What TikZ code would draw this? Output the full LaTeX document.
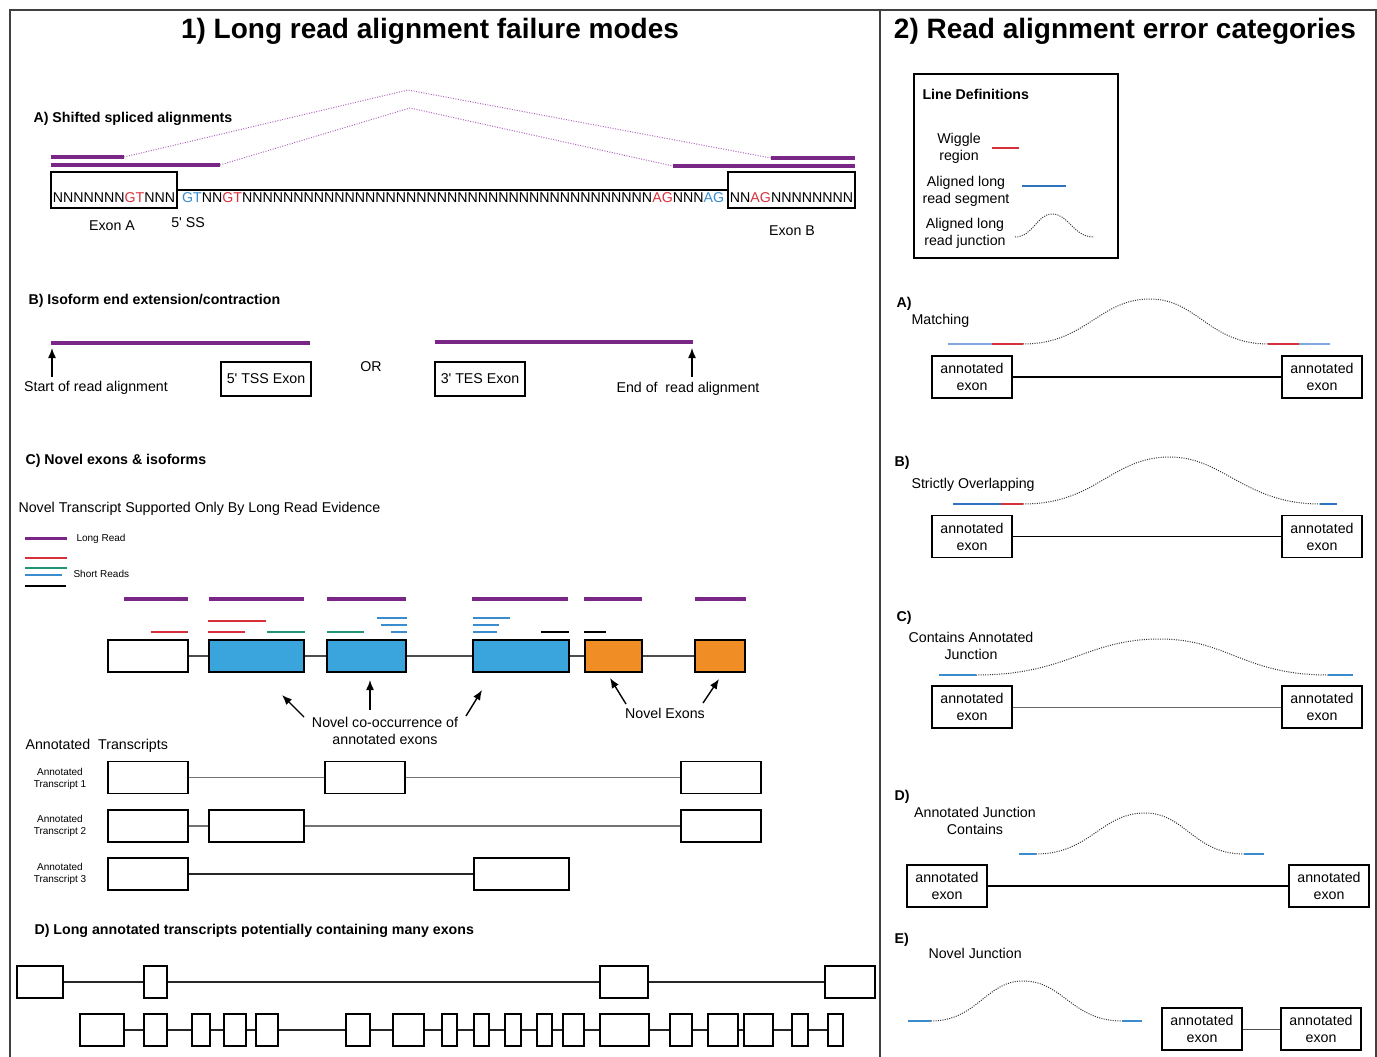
\documentclass[tikz,border=0pt]{standalone}
\usepackage{fontspec}
\setmainfont{Liberation Sans}
\usetikzlibrary{arrows.meta,positioning}
\definecolor{lrpurple}{RGB}{122,38,134}
\definecolor{jpurple}{RGB}{176,104,190}
\definecolor{sred}{RGB}{214,48,58}
\definecolor{sblue}{RGB}{58,140,206}
\definecolor{exblue}{RGB}{58,165,221}
\definecolor{exorange}{RGB}{240,141,36}
\definecolor{sgreen}{RGB}{32,148,118}
\definecolor{lblue}{RGB}{128,168,224}
\definecolor{dblue}{RGB}{44,116,192}

\begin{document}
\begin{tikzpicture}[x=1pt, y=-1pt, font=\fontsize{14.2}{17}\selectfont,
  box/.style={draw, line width=1.1pt, inner sep=0pt},
  seqbox/.style={box, text height=30pt, text depth=6pt},
  exon/.style={box, minimum height=32pt},
  aexon/.style={box, align=center, minimum width=80pt, minimum height=42pt},
  lread/.style={lrpurple, line width=4pt},
  sread/.style={line width=1.4pt},
  jdot/.style={jpurple, line width=1pt, dash pattern=on 1pt off 1.5pt},
  jline/.style={black!80, line width=1pt, dash pattern=on 1pt off 1.3pt},
  intron/.style={black!70, line width=1.4pt},
  arr/.style={line width=1.4pt, -{Latex[length=10pt, width=8pt]}},
  bold/.style={font=\fontsize{14.2}{17}\selectfont\bfseries},
  head/.style={anchor=west, bold},
  big/.style={font=\fontsize{28}{32}\selectfont\bfseries},
  small/.style={font=\fontsize{10}{12.5}\selectfont, align=center}]
\useasboundingbox (0,0) rectangle (1377,1057);

\draw[line width=1.2pt, black!75] (10,1057) -- (10,10) -- (1376,10) -- (1376,1057);
\draw[line width=1.2pt, black!75] (880,10) -- (880,1057);
\node[big] (title1) at (430,31) {1) Long read alignment failure modes};
\node[big] (title2) at (1125,31) {2) Read alignment error categories};

% A) shifted spliced alignments
\node[head] (hA) at (30,119) {A) Shifted spliced alignments};
\draw[jdot] (124,157) -- (408,90) -- (771,158);
\draw[jdot] (220,165) -- (410,108) -- (673,166);
\draw[lread] (51,157) -- (124,157);
\draw[lread] (51,165) -- (220,165);
\draw[lread] (771,158) -- (855,158);
\draw[lread] (673,166) -- (855,166);
\node[seqbox, minimum width=126pt] (exA) at (114,190) {NNNNNNN\textcolor{sred}{GT}NNN};
\node[seqbox, minimum width=127pt] (exB) at (791.5,190) {NN\textcolor{sred}{AG}NNNNNNNN};
\draw[line width=1.1pt] (exA) -- (exB);
\node[anchor=base west, inner sep=0pt] (intr) at (182,202) {\textcolor{sblue}{GT}NN\textcolor{sred}{GT}NNNNNNNNNNNNNNNNNNNNNNNNNNNNNNNNNNNNNNNN\textcolor{sred}{AG}NNN\textcolor{sblue}{AG}};
\node (exAl) at (112,226) {Exon A};
\node (ssl) at (188,223) {5\textquotesingle{} SS};
\node (exBl) at (792,231) {Exon B};

% B) isoform ends
\node[head] (hB) at (25,301) {B) Isoform end extension/contraction};
\draw[lread] (51,343) -- (310,343);
\draw[lread] (435,342) -- (693,342);
\node (sra) at (96,388) {Start of read alignment};
\coordinate (sra0) at (52,377);
\coordinate (sra1) at (52,348);
\draw[arr] (sra0) -- (sra1);
\node[box, minimum width=90pt, minimum height=34pt] (tss) at (266,379) {5\textquotesingle{} TSS Exon};
\node (or) at (371,367) {OR};
\node[box, minimum width=90pt, minimum height=34pt] (tes) at (480,379) {3\textquotesingle{} TES Exon};
\node (era) at (688,389) {End of~ read alignment};
\coordinate (era0) at (692,377);
\coordinate (era1) at (692,348);
\draw[arr] (era0) -- (era1);

% C) novel exons
\node[head] (hC) at (22,461) {C) Novel exons \& isoforms};
\node[anchor=west] (ntx) at (15,509) {Novel Transcript Supported Only By Long Read Evidence};
\draw[lread, line width=3pt] (25,538) -- (67,538);
\node[small, anchor=west] (lgl) at (73,539) {Long Read};
\draw[sread, sred, line width=1.2pt] (25,558) -- (67,558);
\draw[sread, sgreen, line width=1.2pt] (25,568) -- (67,568);
\draw[sread, sblue, line width=1.2pt] (25,575) -- (62,575);
\draw[sread, black, line width=1.2pt] (25,586) -- (66,586);
\node[small, anchor=west] (lgs) at (70,574) {Short Reads};

\foreach \l/\r in {124/188, 209/304, 327/406, 472/568, 584/642, 695/746}
  \draw[lread] (\l,599) -- (\r,599);
\draw[sread, sred] (151,632) -- (188,632);
\draw[sread, sred] (208,621) -- (266,621);
\draw[sread, sred] (208,632) -- (245,632);
\draw[sread, sgreen] (267,632) -- (305,632);
\draw[sread, sgreen] (327,632) -- (364,632);
\draw[sread, sblue] (377,618) -- (407,618);
\draw[sread, sblue] (381,625) -- (407,625);
\draw[sread, sblue] (391,632) -- (407,632);
\draw[sread, sblue] (473,618) -- (510,618);
\draw[sread, sblue] (473,625) -- (499,625);
\draw[sread, sblue] (473,632) -- (497,632);
\draw[sread, black] (541,632) -- (569,632);
\draw[sread, black] (584,632) -- (606,632);

\foreach \n/\l/\r/\f in {c1/108/188/white, c2/209/304/exblue, c3/327/406/exblue, c4/473/569/exblue, c5/585/642/exorange, c6/695/745/exorange}
  \node[exon, fill=\f, minimum width={\r-\l}] (\n) at ({(\l+\r)/2},656) {};
\draw[intron] (c1) -- (c2) -- (c3) -- (c4) -- (c5) -- (c6);

\node[align=center] (nco) at (385,730.5) {Novel co-occurrence of\\annotated exons};
\node (nex) at (665,713) {Novel Exons};
\coordinate (p1) at (304,717); \coordinate (q1) at (282,695);
\coordinate (p2) at (370,710); \coordinate (q2) at (370,680);
\coordinate (p3) at (466,716); \coordinate (q3) at (482,690);
\coordinate (p4) at (626,704); \coordinate (q4) at (610,678);
\coordinate (p5) at (703,703); \coordinate (q5) at (719,679);
\foreach \i in {1,...,5}
  \draw[arr] (p\i) -- (q\i);

\node[anchor=west] (atx) at (22,746) {Annotated~ Transcripts};
\node[small] (at1) at (60,779) {Annotated\\Transcript 1};
\node[small] (at2) at (60,826) {Annotated\\Transcript 2};
\node[small] (at3) at (60,874) {Annotated\\Transcript 3};
\foreach \n/\l/\r/\y in {ta/108/188/777.5, tb/325/405/777.5, tc/681/761/777.5,
                          ua/108/188/826, ub/209/304/826, uc/681/761/826,
                          va/108/188/874, vb/474/569/874}
  \node[exon, minimum width={\r-\l}] (\n) at ({(\l+\r)/2},\y) {};
\draw[intron, black!55] (ta) -- (tb) -- (tc);
\draw[intron, black!55] (ua) -- (ub) -- (uc);
\draw[intron, black!85] (va) -- (vb);

% D) long annotated transcripts
\node[head] (hD) at (31,931) {D) Long annotated transcripts potentially containing many exons};
\foreach \n/\l/\r in {d1/17/63, d2/144/167, d3/600/648, d4/825/875}
  \node[exon, minimum width={\r-\l}] (\n) at ({(\l+\r)/2},982) {};
\draw[intron, black!85] (d1) -- (d2) -- (d3) -- (d4);
\foreach \l/\r [count=\i] in {80/124, 144/167, 192/210, 224/246, 256/278, 346/370, 393/424, 442/457, 474/489, 505/521, 537/552, 563/584, 600/649, 670/692, 708/738, 744/773, 792/808, 828/843}
  \node[exon, minimum width={\r-\l}] (e\i) at ({(\l+\r)/2},1030) {};
\foreach \i [evaluate=\i as \j using int(\i+1)] in {1,...,17}
  \draw[intron, black!85] (e\i) -- (e\j);

% line definitions
\draw[line width=1.1pt] (914,74) rectangle (1118,258);
\node[head] (ldh) at (919,94) {Line Definitions};
\node[align=center] (wig) at (959,148) {Wiggle\\region};
\draw[sread, sred] (992,148) -- (1019,148);
\node[align=center] (seg) at (966,191.5) {Aligned long\\read segment};
\draw[sread, dblue] (1022,186) -- (1066,186);
\node[align=center] (jun) at (965,233.5) {Aligned long\\read junction};
\draw[jline] (1015,237) .. controls (1033,237) and (1037,214) .. (1052,214) .. controls (1069,214) and (1073,237) .. (1094,237);

% A) matching
\node[head] (rA) at (893,304) {A)};
\node[anchor=west] (rAt) at (908,321) {Matching};
\draw[jline] (1023,344) .. controls (1086,344) and (1099,299) .. (1150,299) .. controls (1197,299) and (1209,344) .. (1268,344);
\draw[sread, lblue] (948,344) -- (992,344);
\draw[sread, sred] (992,344) -- (1023,344);
\draw[sread, sred] (1268,344) -- (1299,344);
\draw[sread, lblue] (1299,344) -- (1330,344);
\node[aexon] (a1) at (972,377) {annotated\\exon};
\node[aexon] (a2) at (1322,377) {annotated\\exon};
\draw[line width=1.4pt] (a1) -- (a2);

% B) strictly overlapping
\node[head] (rB) at (891,463) {B)};
\node[anchor=west] (rBt) at (908,485) {Strictly Overlapping};
\draw[jline] (1023,504) .. controls (1097,504) and (1111,457) .. (1170,457) .. controls (1223,457) and (1245,504) .. (1320,504);
\draw[sread, dblue] (953,504) -- (1001,504);
\draw[sread, sred] (1001,504) -- (1023,504);
\draw[sread, dblue] (1320,504) -- (1337,504);
\node[aexon] (b1) at (972,536.5) {annotated\\exon};
\node[aexon] (b2) at (1322,536.5) {annotated\\exon};
\draw[line width=1.2pt] (b1) -- (b2);

% C) contains annotated junction
\node[head] (rC) at (893,618) {C)};
\node[align=center] (rCt) at (971,646) {Contains Annotated\\Junction};
\draw[jline] (976,675) .. controls (1068,675) and (1086,639) .. (1160,639) .. controls (1227,639) and (1244,675) .. (1328,675);
\draw[sread, sblue, line width=1.8pt] (939,675) -- (976,675);
\draw[sread, sblue, line width=1.8pt] (1328,675) -- (1353,675);
\node[aexon] (c7) at (972,707) {annotated\\exon};
\node[aexon] (c8) at (1322,707) {annotated\\exon};
\draw[line width=1pt, black!60] (c7) -- (c8);

% D) annotated junction contains
\node[head] (rD) at (891,797) {D)};
\node[align=center] (rDt) at (975,820.5) {Annotated Junction\\Contains};
\draw[jline] (1036,854) .. controls (1090,854) and (1101,813) .. (1145,813) .. controls (1185,813) and (1194,854) .. (1244,854);
\draw[sread, sblue, line width=1.8pt] (1019,854) -- (1036,854);
\draw[sread, sblue, line width=1.8pt] (1244,854) -- (1264,854);
\node[aexon] (d5) at (947,886) {annotated\\exon};
\node[aexon] (d6) at (1329,886) {annotated\\exon};
\draw[line width=1.4pt] (d5) -- (d6);

% E) novel junction
\node[head] (rE) at (891,940) {E)};
\node[anchor=west] (rEt) at (925,953) {Novel Junction};
\draw[jline] (931,1021) .. controls (977,1021) and (986,981) .. (1023,981) .. controls (1063,981) and (1072,1021) .. (1122,1021);
\draw[sread, sblue] (908,1021) -- (931,1021);
\draw[sread, sblue] (1122,1021) -- (1142,1021);
\node[aexon] (e19) at (1202,1029) {annotated\\exon};
\node[aexon] (e20) at (1321,1029) {annotated\\exon};
\draw[line width=1pt, black!70] (e19) -- (e20);
\end{tikzpicture}
\end{document}
